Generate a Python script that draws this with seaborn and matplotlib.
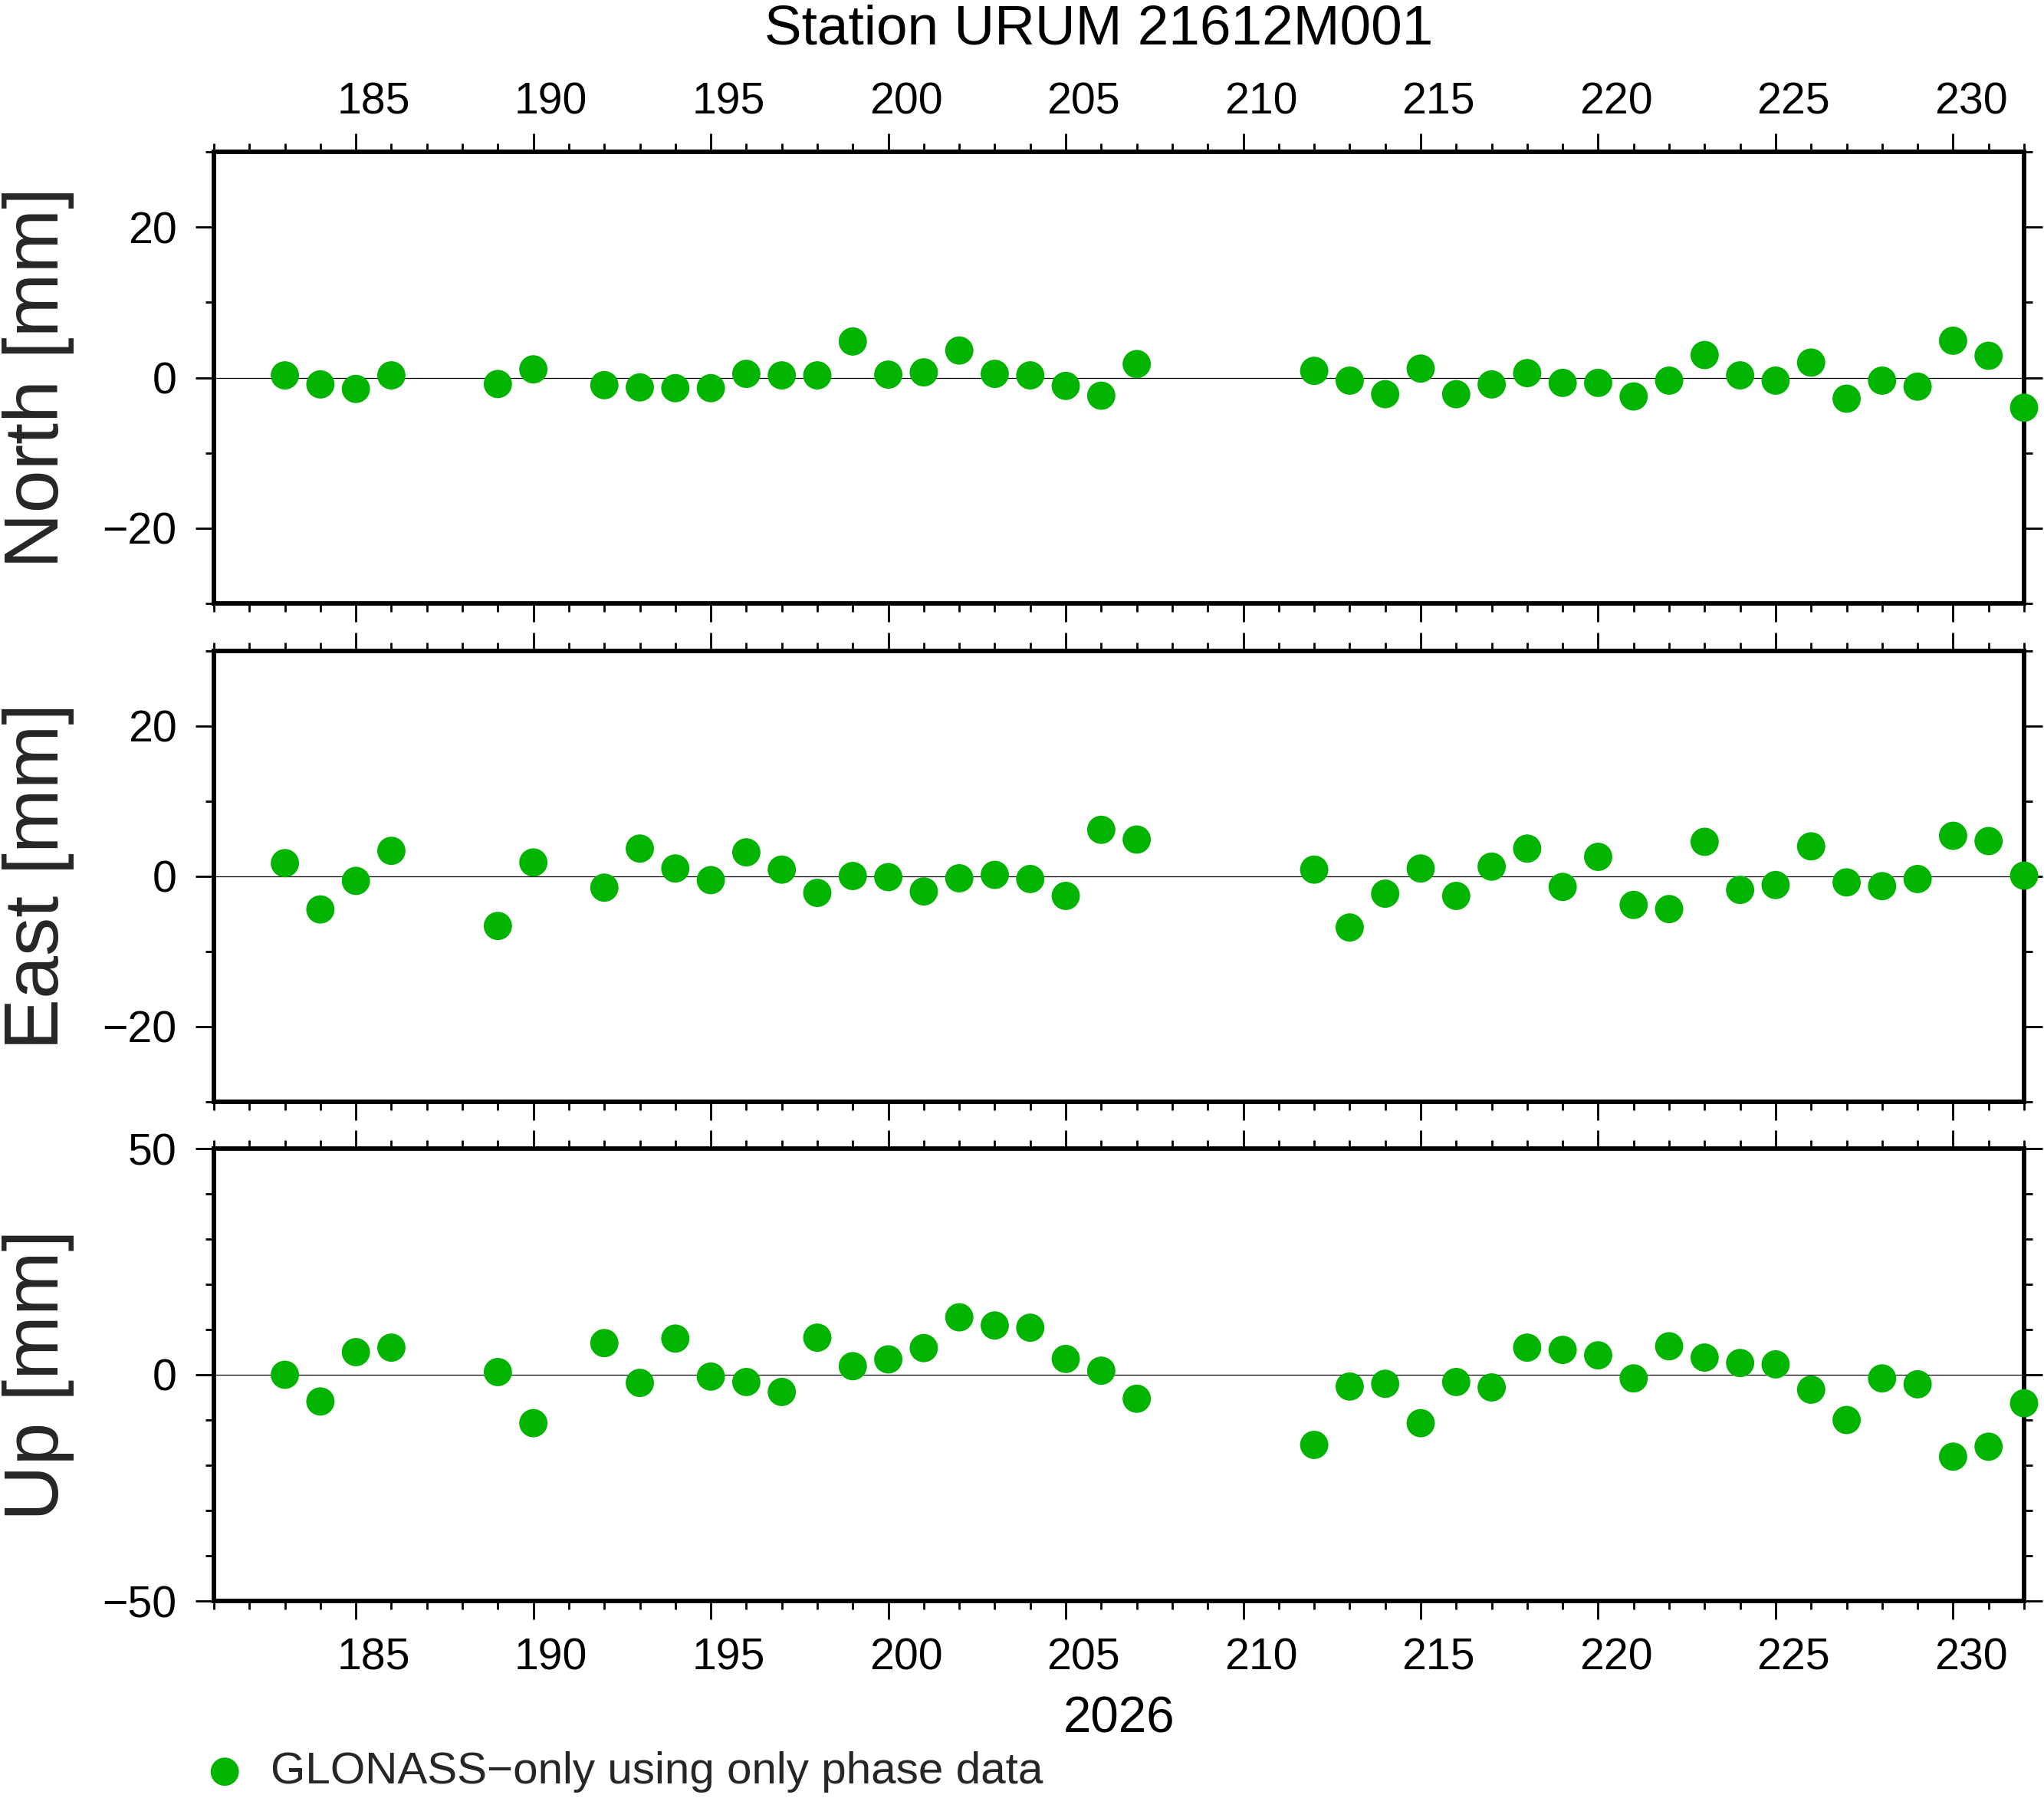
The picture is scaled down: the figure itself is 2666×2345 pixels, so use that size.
import numpy as np
import pandas as pd
import matplotlib
matplotlib.use("Agg")
import matplotlib.pyplot as plt
import seaborn as sns

# day of year 2026
days = [183, 184, 185, 186, 189, 190,
        192, 193, 194, 195, 196, 197, 198, 199, 200, 201, 202, 203, 204, 205, 206, 207,
        212, 213, 214, 215, 216, 217, 218, 219, 220, 221, 222, 223, 224, 225, 226, 227,
        228, 229, 230, 231, 232]

north = [0.3, -0.9, -1.5, 0.3, -0.85, 1.1,
         -1.0, -1.3, -1.4, -1.4, 0.5, 0.3, 0.3, 4.8, 0.4, 0.7, 3.6, 0.5, 0.3, -1.1, -2.4, 1.8,
         0.9, -0.4, -2.2, 1.2, -2.2, -0.9, 0.6, -0.7, -0.7, -2.5, -0.4, 3.0, 0.3, -0.4, 2.0, -2.8,
         -0.4, -1.2, 4.9, 2.9, -4.0]

east = [1.76, -4.4, -0.6, 3.4, -6.6, 1.85,
        -1.5, 3.7, 1.05, -0.5, 3.2, 0.9, -2.2, 0.05, -0.1, -2.0, -0.25, 0.2, -0.35, -2.6, 6.2, 4.9,
        0.9, -6.8, -2.3, 1.05, -2.6, 1.3, 3.7, -1.4, 2.6, -3.8, -4.35, 4.6, -1.8, -1.15, 4.0, -0.8,
        -1.3, -0.35, 5.4, 4.7, 0.1]

up = [0.0, -5.9, 5.0, 6.0, 0.6, -10.7,
      7.0, -1.8, 8.0, -0.4, -1.6, -3.8, 8.2, 1.9, 3.4, 5.9, 12.7, 10.9, 10.4, 3.5, 0.9, -5.3,
      -15.5, -2.6, -2.0, -10.7, -1.6, -2.8, 6.0, 5.5, 4.3, -0.8, 6.3, 3.8, 2.6, 2.3, -3.3, -10.0,
      -0.8, -2.1, -18.1, -15.9, -6.3]

panel_names = ["North [mm]", "East [mm]", "Up [mm]"]
panel_cols = ["north", "east", "up"]
panel_ylims = [(-30, 30), (-30, 30), (-50, 50)]
panel_major = [[-20, 0, 20], [-20, 0, 20], [-50, 0, 50]]
panel_minor = [np.arange(-30, 31, 10), np.arange(-30, 31, 10), np.arange(-50, 51, 10)]

x_major = np.arange(185, 231, 5)
x_labels = [str(d) for d in x_major]

title = "Station URUM 21612M001"
year_label = "2026"
legend_label = "GLONASS\u2212only using only phase data"
green = "#00b400"

df = pd.DataFrame({"doy": days, "north": north, "east": east, "up": up})

sns.set_style("ticks")
plt.rcParams["font.family"] = ["Liberation Sans", "DejaVu Sans"]

W, H = 2666, 2345
fig = plt.figure(figsize=(W / 200, H / 200), dpi=200)

# panel boxes in pixels (left, top, right, bottom)
boxes = [(279, 198, 2640, 787), (279, 849, 2640, 1437), (279, 1498, 2640, 2088)]

tick_fs = 20.6
axes = []
for i, (l, t, r, b) in enumerate(boxes):
    ax = fig.add_axes([l / W, 1 - b / H, (r - l) / W, (b - t) / H])
    axes.append(ax)
    ax.axhline(0, color="black", lw=0.45, zorder=1)
    sns.scatterplot(data=df, x="doy", y=panel_cols[i], ax=ax, color=green, s=176,
                    edgecolor="none", linewidth=0, clip_on=False, zorder=3,
                    label=legend_label if i == 0 else None, legend=False)
    ax.set_xlim(181, 232)
    ax.set_ylim(*panel_ylims[i])
    ax.set_xticks(x_major)
    ax.set_xticks(np.arange(181, 233, 1), minor=True)
    ax.set_yticks(panel_major[i])
    ax.set_yticks(panel_minor[i], minor=True)
    ax.set_xlabel("")
    ax.set_ylabel(panel_names[i], fontsize=36.2)
    ax.yaxis.set_label_coords(-0.077, 0.5)
    for sp in ax.spines.values():
        sp.set_visible(True)
        sp.set_linewidth(2.1)
        sp.set_color("black")
    ax.tick_params(which="both", direction="out", top=True, right=True, bottom=True, left=True,
                   labelbottom=False, labeltop=False, labelright=False, labelleft=True,
                   width=1.0, color="black")
    ax.tick_params(which="major", length=8.5, pad=9, labelsize=tick_fs, labelcolor="black")
    ax.tick_params(which="minor", length=3.8)

    # day labels sit in the middle of each day interval
    if i in (0, 2):
        side = "top" if i == 0 else "bottom"
        sec = ax.secondary_xaxis(side)
        sec.set_xticks(x_major + 0.5, labels=x_labels)
        sec.tick_params(length=0, pad=13.5 if i == 0 else 17, labelsize=tick_fs,
                        labelcolor="black")
        for sp in sec.spines.values():
            sp.set_visible(False)
        if i == 2:
            sec.set_xlabel(year_label, fontsize=23.6, labelpad=8, color="black")

fig.text(1433 / W, 1 - 57 / H, title, fontsize=26.3, ha="center", va="baseline", color="black")

handles, labels = axes[0].get_legend_handles_labels()
fig.legend(handles, labels, loc="center left", bbox_to_anchor=(264 / W, 1 - 2311 / H),
           frameon=False, fontsize=21, handlelength=1.0, handletextpad=0.52,
           borderpad=0, borderaxespad=0, markerscale=1.0)

fig.savefig("out.png", dpi=200)
